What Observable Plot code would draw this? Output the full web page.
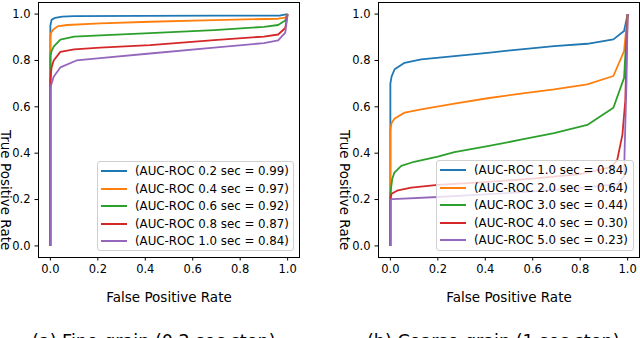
<!DOCTYPE html>
<html><head><meta charset="utf-8">
<script src="https://cdn.jsdelivr.net/npm/d3@7"></script>
<script src="https://cdn.jsdelivr.net/npm/@observablehq/plot@0.6"></script>
<style>
html,body{margin:0;padding:0;background:#fff;overflow:hidden;}
#wrap{position:relative;width:640px;height:338px;font-family:"DejaVu Sans";overflow:hidden;}
.panel{position:absolute;top:0;}
.legend{position:absolute;box-sizing:border-box;background:rgba(255,255,255,0.8);border:1px solid #d0d0d0;border-radius:3px;font-size:11.8px;color:#000;}
.row{position:absolute;left:0;height:17px;display:flex;align-items:center;white-space:nowrap;}
.swatch{display:inline-block;width:26px;height:2px;margin-left:3px;margin-right:8px;}
.cap{position:absolute;font-size:17.6px;line-height:1;white-space:nowrap;color:#000;}
</style></head><body>
<div id="wrap"></div>
<script>
// ---- data ----
const colors = ["#1f77b4", "#ff7f0e", "#2ca02c", "#d62728", "#9467bd"];
const xTicks = [0, 0.2, 0.4, 0.6, 0.8, 1.0];
const yTicks = [0, 0.2, 0.4, 0.6, 0.8, 1.0];
const xLabel = "False Positive Rate";
const yLabel = "True Positive Rate";

const fineSeries = ["(AUC-ROC 0.2 sec = 0.99)", "(AUC-ROC 0.4 sec = 0.97)", "(AUC-ROC 0.6 sec = 0.92)", "(AUC-ROC 0.8 sec = 0.87)", "(AUC-ROC 1.0 sec = 0.84)"];
const coarseSeries = ["(AUC-ROC 1.0 sec = 0.84)", "(AUC-ROC 2.0 sec = 0.64)", "(AUC-ROC 3.0 sec = 0.44)", "(AUC-ROC 4.0 sec = 0.30)", "(AUC-ROC 5.0 sec = 0.23)"];
const captions = ["(a) Fine-grain (0.2 sec step)", "(b) Coarse-grain (1 sec step)"];

// [fpr, tpr] points
const fine02 = [[0,0],[0,0.95],[0.005,0.975],[0.02,0.984],[0.05,0.989],[0.1,0.991],[0.4,0.992],[0.7,0.993],[0.97,0.994],[1,1]];
const fine04 = [[0,0],[0,0.90],[0.003,0.92],[0.014,0.935],[0.03,0.947],[0.07,0.953],[0.21,0.96],[0.42,0.967],[0.69,0.974],[0.96,0.98],[0.99,0.985],[1,1]];
const fine06 = [[0,0],[0,0.82],[0.005,0.84],[0.014,0.86],[0.042,0.89],[0.1,0.903],[0.21,0.908],[0.42,0.918],[0.69,0.931],[0.9,0.945],[0.96,0.953],[0.99,0.972],[1,1]];
const fine08 = [[0,0],[0,0.71],[0.005,0.77],[0.014,0.80],[0.042,0.837],[0.1,0.848],[0.21,0.855],[0.42,0.866],[0.69,0.888],[0.9,0.903],[0.96,0.912],[0.99,0.94],[1,1]];
const fine10 = [[0,0],[0,0.68],[0.005,0.70],[0.014,0.73],[0.042,0.77],[0.11,0.80],[0.21,0.81],[0.42,0.83],[0.69,0.855],[0.9,0.875],[0.96,0.887],[0.99,0.92],[1,1]];

const coarse1 = [[0,0],[0,0.70],[0.005,0.73],[0.018,0.762],[0.06,0.79],[0.13,0.805],[0.27,0.819],[0.41,0.833],[0.55,0.848],[0.69,0.862],[0.83,0.872],[0.94,0.891],[0.985,0.927],[1,1]];
const coarse2 = [[0,0],[0,0.50],[0.005,0.53],[0.018,0.55],[0.06,0.575],[0.13,0.589],[0.27,0.614],[0.41,0.637],[0.55,0.657],[0.69,0.675],[0.83,0.697],[0.94,0.733],[0.985,0.84],[1,1]];
const coarse3 = [[0,0],[0,0.22],[0.003,0.25],[0.008,0.29],[0.017,0.316],[0.046,0.345],[0.1,0.363],[0.2,0.385],[0.27,0.405],[0.41,0.43],[0.55,0.458],[0.69,0.487],[0.83,0.522],[0.94,0.596],[0.985,0.725],[1,1]];
const coarse4 = [[0,0],[0,0.20],[0.005,0.225],[0.032,0.24],[0.088,0.251],[0.2,0.263],[0.4,0.275],[0.6,0.29],[0.8,0.31],[0.93,0.34],[0.956,0.37],[0.978,0.48],[0.99,0.625],[1,1]];
const coarse5 = [[0,0],[0,0.20],[0.01,0.202],[0.2,0.211],[0.4,0.222],[0.6,0.235],[0.8,0.25],[0.956,0.266],[0.985,0.30],[0.987,0.40],[0.995,0.7],[1,1]];

const fineCurves = [fine02, fine04, fine06, fine08, fine10];
const coarseCurves = [coarse1, coarse2, coarse3, coarse4, coarse5];

function table(series, curves) {
  const rows = [];
  curves.forEach((c, i) => c.forEach(([fpr, tpr]) => rows.push({series: series[i], fpr, tpr})));
  return rows;
}

const fmt = d3.format(".1f");
const wrap = document.getElementById("wrap");

function panel(series, curves, left, marginLeft, marginRight, ylabelDx) {
  const chart = Plot.plot({
    width: 320, height: 310,
    marginLeft, marginRight, marginTop: 2, marginBottom: 53,
    style: {fontFamily: "DejaVu Sans", fontSize: "11.5px", color: "#000", background: "transparent"},
    x: {domain: [-0.05, 1.05]},
    y: {domain: [-0.05, 1.05]},
    color: {domain: series, range: colors},
    marks: [
      Plot.line(table(series, curves), {x: "fpr", y: "tpr", z: "series", stroke: "series", strokeWidth: 1.8, strokeLinejoin: "round", strokeLinecap: "butt"}),
      Plot.frame({stroke: "#000", strokeWidth: 1}),
      Plot.axisX({ticks: xTicks, tickFormat: fmt, tickSize: 3.5, tickPadding: 3.5, label: null}),
      Plot.axisY({ticks: yTicks, tickFormat: fmt, tickSize: 3.5, tickPadding: 4.5, label: null}),
      Plot.text([xLabel], {text: d => d, frameAnchor: "bottom", dy: 40, lineAnchor: "middle", fontSize: 13.5}),
      Plot.text([yLabel], {text: d => d, frameAnchor: "left", dx: ylabelDx, rotate: 90, lineAnchor: "middle", fontSize: 13.5})
    ]
  });
  chart.classList.add("panel");
  chart.style.left = left + "px";
  wrap.appendChild(chart);
  return chart;
}

panel(fineSeries, fineCurves, 0, 38, 21, -33);
panel(coarseSeries, coarseCurves, 320, 58, 1, -34);

function legend(series, left, top, width, height) {
  const box = document.createElement("div");
  box.className = "legend";
  Object.assign(box.style, {left: left + "px", top: top + "px", width: width + "px", height: height + "px"});
  series.forEach((s, i) => {
    const row = document.createElement("div");
    row.className = "row";
    row.style.top = (0.5 + i * 17.5) + "px";
    const sw = document.createElement("span");
    sw.className = "swatch";
    sw.style.background = colors[i];
    const tx = document.createElement("span");
    tx.textContent = s;
    row.appendChild(sw); row.appendChild(tx);
    box.appendChild(row);
  });
  wrap.appendChild(box);
}
legend(fineSeries, 97, 161, 197, 90);
legend(coarseSeries, 436, 160, 198, 91);

captions.forEach((c, i) => {
  const d = document.createElement("div");
  d.className = "cap";
  d.textContent = c;
  d.style.left = (i === 0 ? 32 : 367) + "px";
  d.style.top = "333px";
  wrap.appendChild(d);
});
</script></body></html>
